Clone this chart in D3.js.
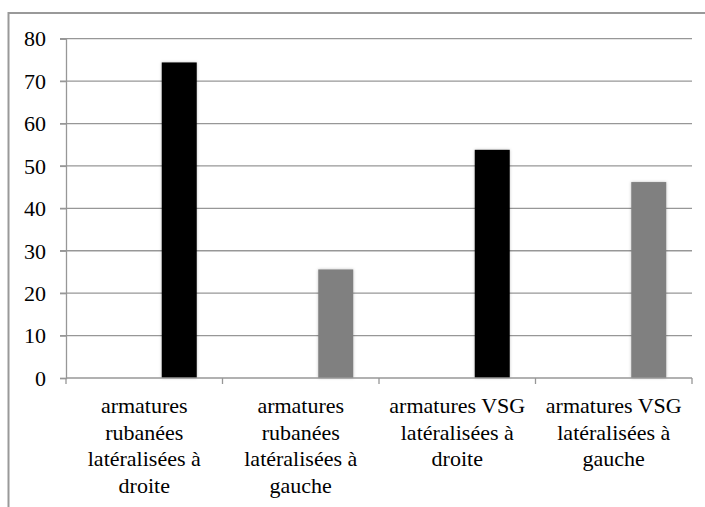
<!DOCTYPE html>
<html>
<head>
<meta charset="utf-8">
<script src="https://cdn.jsdelivr.net/npm/d3@7"></script>
<style>
  body { margin: 0; background: #fff; font-family: "Liberation Serif", "DejaVu Serif", serif; }
  svg, svg text { font-family: "Liberation Serif", "DejaVu Serif", serif !important; }
</style>
</head>
<body>
<div id="chart"></div>
<script>
// data
var categories = [
  "armatures rubanées latéralisées à droite",
  "armatures rubanées latéralisées à gauche",
  "armatures VSG latéralisées à droite",
  "armatures VSG latéralisées à gauche"
];
var labelLines = [
  ["armatures", "rubanées", "latéralisées à", "droite"],
  ["armatures", "rubanées", "latéralisées à", "gauche"],
  ["armatures VSG", "latéralisées à", "droite"],
  ["armatures VSG", "latéralisées à", "gauche"]
];
var values = [74.4, 25.6, 53.8, 46.2];
var barColors = ["#000000", "#808080", "#000000", "#808080"];
var yTicks = [0, 10, 20, 30, 40, 50, 60, 70, 80];
// the bars sit in the third slot of a three-series cluster (first two empty)
var seriesSlots = ["s1", "s2", "s3"];

var W = 705, H = 507;
var plotLeft = 66, plotRight = 692, plotTop = 38.7, plotBottom = 378;

var svg = d3.select("#chart").append("svg")
    .attr("width", W)
    .attr("height", H);

// outer frame (only top and left edges visible)
svg.append("rect")
    .attr("x", 8.5).attr("y", 13)
    .attr("width", W + 20).attr("height", H + 20)
    .attr("fill", "none")
    .attr("stroke", "#999")
    .attr("stroke-width", 2);

var x = d3.scaleBand()
    .domain(categories)
    .range([plotLeft, plotRight])
    .padding(0);

var xs = d3.scaleBand()
    .domain(seriesSlots)
    .range([0, x.bandwidth()])
    .paddingInner(0)
    .paddingOuter(0.736);

var y = d3.scaleLinear()
    .domain([0, 80])
    .range([plotBottom, plotTop]);

// gridlines
svg.append("g")
  .selectAll("line")
  .data(yTicks.filter(function(d) { return d > 0; }))
  .join("line")
    .attr("x1", plotLeft - 6)
    .attr("x2", plotRight)
    .attr("y1", function(d) { return y(d); })
    .attr("y2", function(d) { return y(d); })
    .attr("stroke", "#979797")
    .attr("stroke-width", 1.3);

// y axis
var yAxis = svg.append("g")
    .attr("transform", "translate(" + plotLeft + ",0)")
    .call(d3.axisLeft(y).tickValues(yTicks).tickSize(6).tickPadding(14).tickFormat(d3.format("d")));
yAxis.attr("font-family", null).attr("font-size", 22);
yAxis.select(".domain").attr("stroke", "#979797").attr("stroke-width", 1.3);
yAxis.selectAll(".tick line").attr("stroke", "#979797").attr("stroke-width", 1.3);
yAxis.selectAll(".tick text")
    .attr("fill", "#000")
    .attr("dy", "0.33em");

// bars
var defs = svg.append("defs");
var f = defs.append("filter").attr("id", "shadow")
    .attr("x", "-20%").attr("y", "-10%").attr("width", "140%").attr("height", "120%");
f.append("feDropShadow")
    .attr("dx", 0).attr("dy", 0).attr("stdDeviation", 1.5)
    .attr("flood-color", "#000").attr("flood-opacity", 0.25);

svg.append("g")
  .selectAll("rect")
  .data(values)
  .join("rect")
    .attr("x", function(d, i) { return x(categories[i]) + xs("s3"); })
    .attr("y", function(d) { return y(d); })
    .attr("width", xs.bandwidth())
    .attr("height", function(d) { return y(0) - y(d); })
    .attr("fill", function(d, i) { return barColors[i]; })
    .attr("filter", "url(#shadow)");

// x axis
var xAxis = svg.append("g")
    .attr("transform", "translate(0," + plotBottom + ")");
xAxis.append("line")
    .attr("x1", plotLeft).attr("x2", plotRight)
    .attr("stroke", "#979797").attr("stroke-width", 1.3);
var bounds = categories.map(function(c) { return x(c); }).concat([plotRight]);
xAxis.selectAll(".xt")
  .data(bounds)
  .join("line")
    .attr("class", "xt")
    .attr("x1", function(d) { return d; })
    .attr("x2", function(d) { return d; })
    .attr("y1", 0).attr("y2", 6)
    .attr("stroke", "#979797").attr("stroke-width", 1.3);

// category labels
var lab = svg.append("g")
  .selectAll("text")
  .data(categories)
  .join("text")
    .attr("text-anchor", "middle")
    .attr("font-size", 22)
    .attr("fill", "#000")
    .attr("x", function(c) { return x(c) + x.bandwidth() / 2; })
    .attr("y", 413);
lab.selectAll("tspan")
  .data(function(c, i) { return labelLines[i]; })
  .join("tspan")
    .attr("x", function() { return d3.select(this.parentNode).attr("x"); })
    .attr("dy", function(d, j) { return j === 0 ? 0 : 26.6; })
    .text(function(d) { return d; });
</script>
</body>
</html>
